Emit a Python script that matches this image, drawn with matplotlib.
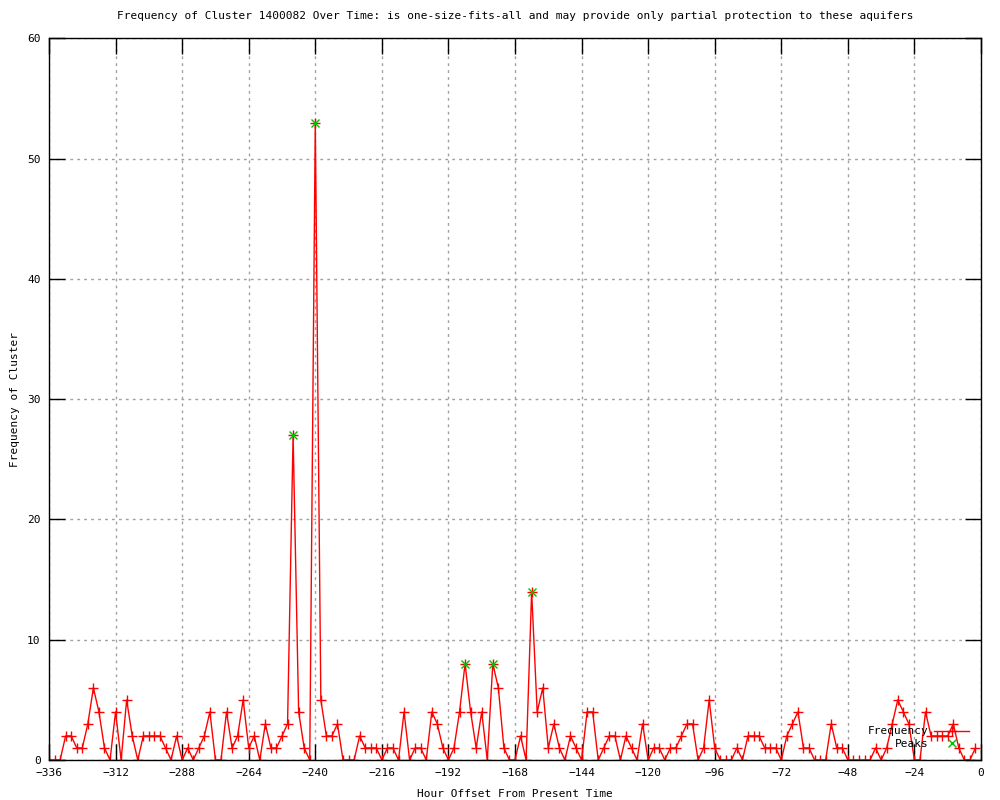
import numpy as np
import matplotlib
matplotlib.use("Agg")
import matplotlib.pyplot as plt

# hourly offsets (every 2 hours) and cluster counts
hours = np.arange(-336, 0, 2)
freq = [0, 0, 0, 2, 2, 1, 1, 3, 6, 4,
        1, 0, 4, 0, 5, 2, 0, 2, 2, 2,
        2, 1, 0, 2, 0, 1, 0, 1, 2, 4,
        0, 0, 4, 1, 2, 5, 1, 2, 0, 3,
        1, 1, 2, 3, 27, 4, 1, 0, 53, 5,
        2, 2, 3, 0, 0, 0, 2, 1, 1, 1,
        0, 1, 1, 0, 4, 0, 1, 1, 0, 4,
        3, 1, 0, 1, 4, 8, 4, 1, 4, 0,
        8, 6, 1, 0, 0, 2, 0, 14, 4, 6,
        1, 3, 1, 0, 2, 1, 0, 4, 4, 0,
        1, 2, 2, 0, 2, 1, 0, 3, 0, 1,
        1, 0, 1, 1, 2, 3, 3, 0, 1, 5,
        1, 0, 0, 0, 1, 0, 2, 2, 2, 1,
        1, 1, 0, 2, 3, 4, 1, 1, 0, 0,
        0, 3, 1, 1, 0, 0, 0, 0, 0, 1,
        0, 1, 3, 5, 4, 3, 0, 0, 4, 2,
        2, 2, 2, 3, 1, 0, 0, 1]

peak_hours = [-248, -240, -186, -176, -162]
peak_vals = [27, 53, 8, 8, 14]

x_ticks = list(range(-336, 1, 24))
y_ticks = list(range(0, 61, 10))

title = ("Frequency of Cluster 1400082 Over Time: is one-size-fits-all "
         "and may provide only partial protection to these aquifers")

plt.rcParams['font.family'] = ['DejaVu Sans Mono']

fig = plt.figure(figsize=(10, 8), dpi=100)
ax = fig.add_axes([0.049, 0.05, 0.932, 0.902])

ax.plot(hours, freq, color='#ff0000', linewidth=1, marker='+',
        markersize=6.5, markeredgewidth=1, label='Frequency')
ax.plot(peak_hours, peak_vals, linestyle='none', color='#00c000',
        marker='x', markersize=6, markeredgewidth=1, label='Peaks')

ax.set_xlim(-336, 0)
ax.set_ylim(0, 60)
ax.set_xticks(x_ticks)
ax.set_yticks(y_ticks)
ax.tick_params(direction='in', length=11.5, width=1, top=True, right=True,
               labelsize=8, pad=6)
ax.grid(True, color='#a0a0a0', linestyle=(0, (2, 3)), linewidth=1)
ax.set_axisbelow(True)
for s in ax.spines.values():
    s.set_linewidth(1)

ax.set_title(title, fontsize=8, pad=14)
ax.set_xlabel("Hour Offset From Present Time", fontsize=8, labelpad=8)
ax.set_ylabel("Frequency of Cluster", fontsize=8, labelpad=5)

ax.legend(loc='lower right', bbox_to_anchor=(0.996, 0.005), frameon=False,
          markerfirst=False, fontsize=8, handlelength=3.2,
          labelspacing=0.2, handletextpad=0.5, borderaxespad=0.3)

fig.savefig("out.png", dpi=100)
